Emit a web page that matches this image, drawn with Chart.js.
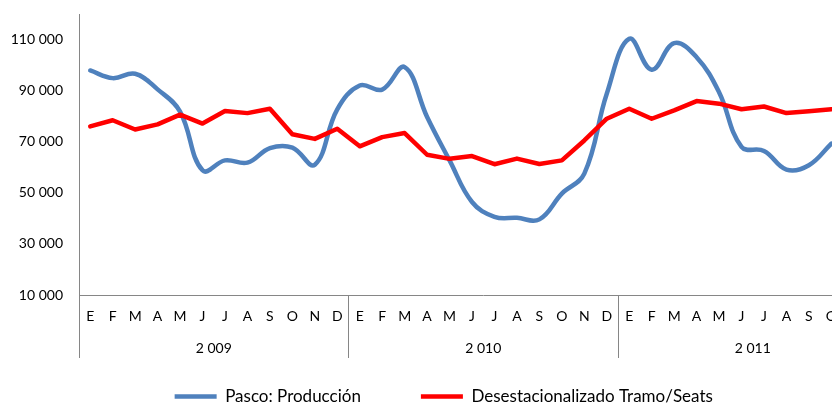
<!DOCTYPE html>
<html>
<head>
<meta charset="utf-8">
<script src="https://cdn.jsdelivr.net/npm/chart.js@4/dist/chart.umd.min.js"></script>
<style>
  html, body { margin: 0; padding: 0; background: #fff; overflow: hidden; width: 832px; height: 403px; }
  #wrap { position: relative; width: 903px; height: 415px; }
</style>
</head>
<body>
<div id="wrap"><canvas id="c" width="903" height="415"></canvas></div>
<script>
// ---- data ----
const months = ['E','F','M','A','M','J','J','A','S','O','N','D'];
const years = ['2 009','2 010','2 011'];
const categories = years.flatMap(() => months);
const yTickValues = [10000, 30000, 50000, 70000, 90000, 110000];
const produccion = [97900, 94900, 96600, 90500, 81800, 58800, 62700, 61800, 67500, 67700, 61000, 82700,
                    92000, 90400, 99200, 79700, 62700, 46400, 40600, 40200, 39600, 49700, 57500, 88800,
                    110300, 98200, 108600, 103100, 89400, 68000, 66400, 59100, 60800, 69300];
const desestacionalizado = [76000, 78400, 74800, 76800, 80600, 77100, 82000, 81200, 82900, 72900, 71100, 75100,
                            68200, 71800, 73400, 64900, 63300, 64400, 61200, 63400, 61300, 62700, 70500, 79000,
                            82900, 79000, 82300, 85900, 84900, 82700, 83800, 81200, 81900, 82700];
const seriesNames = ['Pasco: Producción', 'Desestacionalizado Tramo/Seats'];

const AXIS_COLOR = '#868686';
const FONT = 'Lato';

const fmt = v => String(v).replace(/\B(?=(\d{3})+(?!\d))/g, ' ');

const yearAxisPlugin = {
  id: 'yearAxis',
  afterDraw(chart) {
    const { ctx, scales: { x }, chartArea } = chart;
    const band = x.getPixelForValue(1) - x.getPixelForValue(0);
    const top = chartArea.bottom;
    const bottom = chartArea.bottom + 63;
    ctx.save();
    ctx.strokeStyle = AXIS_COLOR;
    ctx.lineWidth = 1;
    for (let g = 0; g <= years.length; g++) {
      const px = Math.round(x.getPixelForValue(g * months.length) - band / 2) + 0.5;
      ctx.beginPath();
      ctx.moveTo(px, top);
      ctx.lineTo(px, bottom);
      ctx.stroke();
    }
    ctx.fillStyle = '#000';
    ctx.font = '14px ' + FONT;
    ctx.textAlign = 'center';
    ctx.textBaseline = 'middle';
    years.forEach((yr, g) => {
      const a = x.getPixelForValue(g * months.length);
      const b = x.getPixelForValue(g * months.length + months.length - 1);
      ctx.fillText(yr, (a + b) / 2, chartArea.bottom + 53);
    });
    ctx.restore();
  }
};

new Chart(document.getElementById('c'), {
  type: 'line',
  data: {
    labels: categories,
    datasets: [
      {
        label: seriesNames[0],
        data: produccion,
        borderColor: '#4F81BD',
        backgroundColor: '#4F81BD',
        borderWidth: 4.5,
        tension: 0.4,
        pointRadius: 0,
        pointStyle: 'line',
        borderCapStyle: 'round',
        borderJoinStyle: 'round',
        order: 2
      },
      {
        label: seriesNames[1],
        data: desestacionalizado,
        borderColor: '#FF0000',
        backgroundColor: '#FF0000',
        borderWidth: 4.5,
        tension: 0,
        pointRadius: 0,
        pointStyle: 'line',
        borderCapStyle: 'round',
        borderJoinStyle: 'round',
        order: 1
      }
    ]
  },
  options: {
    responsive: false,
    animation: false,
    devicePixelRatio: 1,
    layout: { padding: { top: 14, left: 0, right: 15.5, bottom: 0 } },
    plugins: {
      title: { display: false },
      tooltip: { enabled: false },
      legend: {
        display: true,
        position: 'bottom',
        labels: {
          usePointStyle: true,
          pointStyle: 'line',
          pointStyleWidth: 42,
          padding: 60,
          color: '#000',
          font: { family: FONT, size: 17 },
          sort: (a, b) => a.datasetIndex - b.datasetIndex
        }
      }
    },
    scales: {
      x: {
        type: 'category',
        offset: true,
        grid: { display: false, drawTicks: false },
        border: { display: true, color: AXIS_COLOR, width: 1 },
        ticks: {
          autoSkip: false,
          maxRotation: 0,
          minRotation: 0,
          padding: 13,
          color: '#000',
          font: { family: FONT, size: 14 }
        },
        afterFit: s => { s.height = 33; s.paddingLeft = 0; s.paddingRight = 0; }
      },
      y: {
        type: 'linear',
        min: 10000,
        max: 120000,
        grid: { display: false, drawTicks: false },
        border: { display: true, color: AXIS_COLOR, width: 1 },
        afterBuildTicks: s => { s.ticks = yTickValues.map(v => ({ value: v })); },
        ticks: {
          padding: 16,
          color: '#000',
          font: { family: FONT, size: 14 },
          callback: v => fmt(v)
        },
        afterFit: s => { s.width = 79; s.paddingTop = 0; s.paddingBottom = 0; }
      }
    }
  },
  plugins: [yearAxisPlugin]
});
</script>
</body>
</html>
